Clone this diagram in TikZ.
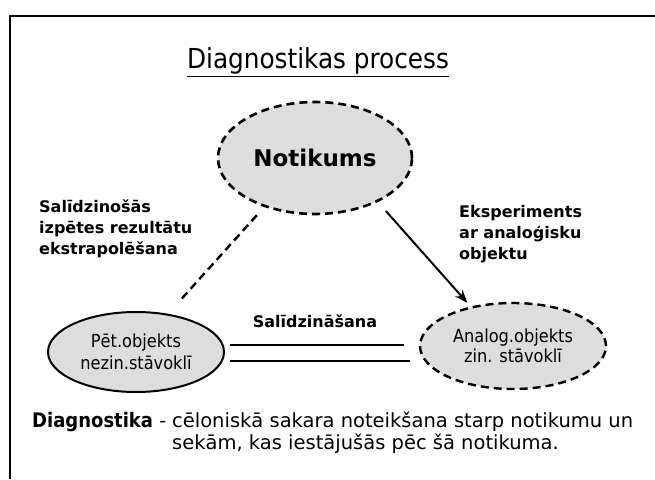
\documentclass[tikz,border=0pt]{standalone}
\usepackage{fontspec}
\setmainfont{DejaVu Sans}
\newfontfamily\narrowfont{DejaVu Sans Condensed}
\usetikzlibrary{arrows.meta,shapes.geometric}
\definecolor{ovalfill}{HTML}{DDDDDD}

\begin{document}
\begin{tikzpicture}[x=1pt,y=-1pt]
    \useasboundingbox (0,0) rectangle (655,479);
    \draw[line width=1.5pt] (655,16) -- (10,16) -- (10,479);

    \node[inner sep=0pt,font=\narrowfont\fontsize{27.5}{32}\selectfont] (title) at (318,62)
        {\underline{Diagnostikas process}};

    \begin{scope} [every node/.style={ellipse,draw=black,fill=ovalfill,inner sep=0pt,align=center}]
        \node[line width=2.6pt,dash pattern=on 8pt off 5pt,minimum width=194pt,minimum height=112pt,
            font=\bfseries\fontsize{23}{28}\selectfont] (event) at (315,158) {Notikums};
        \node[line width=2pt,minimum width=176pt,minimum height=80pt,
            font=\narrowfont\fontsize{18}{22}\selectfont] (study) at (136,352) {Pēt.objekts\\nezin.stāvoklī};
        \node[line width=2.4pt,dash pattern=on 8pt off 5pt,minimum width=186pt,minimum height=86pt,
            font=\narrowfont\fontsize{18}{20}\selectfont] (analog) at (513,346) {Analog.objekts\\zin. stāvoklī};
    \end{scope}

    \begin{scope} [every node/.style={inner sep=0pt,align=left,anchor=west,font=\bfseries\fontsize{16}{21}\selectfont}]
        \node (extrap) at (39,229) {Salīdzinošās\\izpētes rezultātu\\ekstrapolēšana};
        \node (experiment) at (459,234) {Eksperiments\\ar analoģisku\\objektu};
        \node[anchor=center] (compare) at (315,321) {Salīdzināšana};
    \end{scope}

    \begin{scope} [>={Stealth[length=13pt,width=10pt]}, line width=2pt]
        \draw[line width=2.4pt,dash pattern=on 8pt off 5pt,shorten <=11pt,shorten >=16pt]
            (event.224) -- (study.50.6);
        \draw[->,shorten <=12pt,shorten >=5pt] (event.-35) -- (analog.137.5);
        \draw[line width=2.7pt] ([xshift=5pt,yshift=7pt]study.east) -- ([xshift=-15pt,yshift=1pt]analog.west);
        \draw[line width=2.7pt] ([xshift=5pt,yshift=-9pt]study.east) -- ([xshift=-9pt,yshift=-15pt]analog.west);
    \end{scope}

    \node[anchor=west,inner sep=0pt,font=\fontsize{19.5}{22}\selectfont] (definition) at (32,434)
        {\renewcommand{\arraystretch}{1}%
        \begin{tabular}{@{}l@{\hspace{0.3em}}l@{}}
        {\narrowfont\bfseries\fontsize{20}{22}\selectfont Diagnostika} - & cēloniskā sakara noteikšana starp notikumu un\\
         & sekām, kas iestājušās pēc šā notikuma.
        \end{tabular}};
\end{tikzpicture}
\end{document}
